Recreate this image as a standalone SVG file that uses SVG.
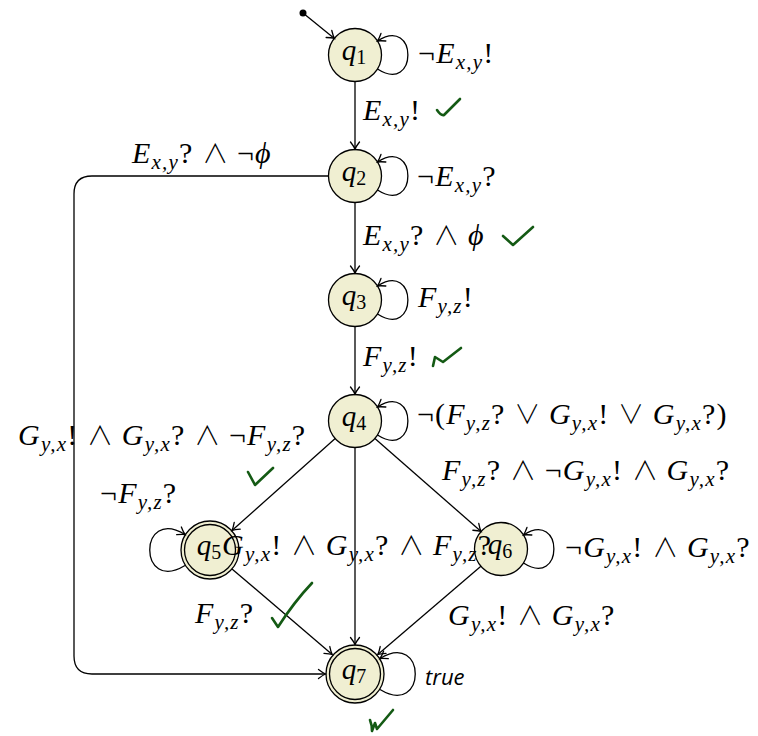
<svg xmlns="http://www.w3.org/2000/svg" width="758" height="736" viewBox="0 0 758 736">
<defs>
<style>
.node{fill:#F0EFD2;stroke:#000;stroke-width:1.3}
.ring{fill:none;stroke:#000;stroke-width:1.3}
.e{fill:none;stroke:#000;stroke-width:1.3;marker-end:url(#ah)}
.t{font-family:"Liberation Serif","DejaVu Serif",serif;font-size:30px;letter-spacing:1.2px;fill:#000}
.i{font-style:italic}
.s{font-size:21px;font-style:italic}
.o{font-family:"Noto Sans CJK JP","Noto Sans CJK SC",sans-serif;font-weight:300;font-size:26px;letter-spacing:0}
.q{font-family:"Liberation Serif","DejaVu Serif",serif;font-size:29px;font-style:italic;fill:#000;text-anchor:middle}
.qs{font-size:20px;font-style:normal}
.sans{font-family:"Open Sans","Noto Sans",sans-serif;font-style:italic;font-weight:500;font-size:22px;fill:#000}
.chk{fill:none;stroke:#145a14;stroke-width:2.6;stroke-linecap:round;stroke-linejoin:round}
</style>
<marker id="ah" markerWidth="12" markerHeight="12" viewBox="-10 -6 12 12" refX="0" refY="0" orient="auto" markerUnits="userSpaceOnUse">
<path d="M-7,-4.5 Q-2.5,-1 0,0 Q-2.5,1 -7,4.5" fill="none" stroke="#000" stroke-width="1.3" stroke-linecap="round"/>
</marker>
</defs>
<rect width="758" height="736" fill="#fff"/>

<g id="q1"><circle class="node" cx="355" cy="55" r="26.5"/><text class="q" x="354" y="60">q<tspan class="qs" dy="4">1</tspan></text></g>
<g id="q2"><circle class="node" cx="355" cy="176" r="26.5"/><text class="q" x="354" y="181">q<tspan class="qs" dy="4">2</tspan></text></g>
<g id="q3"><circle class="node" cx="355" cy="300" r="26.5"/><text class="q" x="354" y="305">q<tspan class="qs" dy="4">3</tspan></text></g>
<g id="q4"><circle class="node" cx="355" cy="421" r="26.5"/><text class="q" x="354" y="426">q<tspan class="qs" dy="4">4</tspan></text></g>
<g id="q5"><circle class="node" cx="210" cy="550" r="29"/><circle class="ring" cx="210" cy="550" r="25.5"/><text class="q" x="209" y="555">q<tspan class="qs" dy="4">5</tspan></text></g>
<g id="q6"><circle class="node" cx="501" cy="549" r="26.5"/><text class="q" x="500" y="554">q<tspan class="qs" dy="4">6</tspan></text></g>
<g id="q7"><circle class="node" cx="355" cy="674" r="29"/><circle class="ring" cx="355" cy="674" r="25.5"/><text class="q" x="354" y="679">q<tspan class="qs" dy="4">7</tspan></text></g>

<g id="connectors">
<circle cx="303" cy="13" r="3.5" fill="#000"/>
<path class="e" d="M303,13 L334.4,38.4"/>
<path class="e" d="M377.5,69 C418,95 418,15 377.5,41"/>
<path class="e" d="M355,81.5 L355,149"/>
<path class="e" d="M377.5,190 C418,216 418,136 377.5,162"/>
<path class="e" d="M328.5,176 H92 Q74,176 74,194 V656 Q74,674 92,674 H325.5"/>
<path class="e" d="M355,202.5 L355,273"/>
<path class="e" d="M377.5,314 C418,340 418,260 377.5,286"/>
<path class="e" d="M355,326.5 L355,394"/>
<path class="e" d="M377.5,435 C418,461 418,381 377.5,407"/>
<path class="e" d="M335.2,438.6 L232,530.5"/>
<path class="e" d="M374.9,438.5 L481.1,531.5"/>
<path class="e" d="M355,447.5 L355,644.5"/>
<path class="e" d="M185,565.5 C138,594 138,506 185,534.5"/>
<path class="e" d="M523.5,563 C564,589 564,509 523.5,535"/>
<path class="e" d="M232,568.9 L332.2,654.5"/>
<path class="e" d="M480.9,566.2 L377.8,654.5"/>
<path class="e" d="M380,689.5 C427,718 427,630 380,658.5"/>
</g>

<g id="labels">
<text class="t" x="418" y="63">¬<tspan class="i">E</tspan><tspan class="s" dy="6">x,y</tspan><tspan dy="-6">!</tspan></text>
<text class="t" x="363" y="120"><tspan class="i">E</tspan><tspan class="s" dy="6">x,y</tspan><tspan dy="-6">!</tspan></text>
<text class="t" x="132" y="163"><tspan class="i">E</tspan><tspan class="s" dy="6">x,y</tspan><tspan dy="-6">? </tspan><tspan class="o">∧</tspan> ¬<tspan class="i">ϕ</tspan></text>
<text class="t" x="417" y="186">¬<tspan class="i">E</tspan><tspan class="s" dy="6">x,y</tspan><tspan dy="-6">?</tspan></text>
<text class="t" x="363" y="245"><tspan class="i">E</tspan><tspan class="s" dy="6">x,y</tspan><tspan dy="-6">? </tspan><tspan class="o">∧</tspan> <tspan class="i">ϕ</tspan></text>
<text class="t" x="418" y="307"><tspan class="i">F</tspan><tspan class="s" dy="6">y,z</tspan><tspan dy="-6">!</tspan></text>
<text class="t" x="363" y="366"><tspan class="i">F</tspan><tspan class="s" dy="6">y,z</tspan><tspan dy="-6">!</tspan></text>
<text class="t" x="417" y="424">¬(<tspan class="i">F</tspan><tspan class="s" dy="6">y,z</tspan><tspan dy="-6">? </tspan><tspan class="o">∨</tspan> <tspan class="i">G</tspan><tspan class="s" dy="6">y,x</tspan><tspan dy="-6">! </tspan><tspan class="o">∨</tspan> <tspan class="i">G</tspan><tspan class="s" dy="6">y,x</tspan><tspan dy="-6">?)</tspan></text>
<text class="t" x="18" y="445"><tspan class="i">G</tspan><tspan class="s" dy="6">y,x</tspan><tspan dy="-6">! </tspan><tspan class="o">∧</tspan> <tspan class="i">G</tspan><tspan class="s" dy="6">y,x</tspan><tspan dy="-6">? </tspan><tspan class="o">∧</tspan> ¬<tspan class="i">F</tspan><tspan class="s" dy="6">y,z</tspan><tspan dy="-6">?</tspan></text>
<text class="t" x="442" y="480"><tspan class="i">F</tspan><tspan class="s" dy="6">y,z</tspan><tspan dy="-6">? </tspan><tspan class="o">∧</tspan> ¬<tspan class="i">G</tspan><tspan class="s" dy="6">y,x</tspan><tspan dy="-6">! </tspan><tspan class="o">∧</tspan> <tspan class="i">G</tspan><tspan class="s" dy="6">y,x</tspan><tspan dy="-6">?</tspan></text>
<text class="t" x="100" y="503">¬<tspan class="i">F</tspan><tspan class="s" dy="6">y,z</tspan><tspan dy="-6">?</tspan></text>
<text class="t" x="222" y="555"><tspan class="i">G</tspan><tspan class="s" dy="6">y,x</tspan><tspan dy="-6">! </tspan><tspan class="o">∧</tspan> <tspan class="i">G</tspan><tspan class="s" dy="6">y,x</tspan><tspan dy="-6">? </tspan><tspan class="o">∧</tspan> <tspan class="i">F</tspan><tspan class="s" dy="6">y,z</tspan><tspan dy="-6">?</tspan></text>
<text class="t" x="565" y="557">¬<tspan class="i">G</tspan><tspan class="s" dy="6">y,x</tspan><tspan dy="-6">! </tspan><tspan class="o">∧</tspan> <tspan class="i">G</tspan><tspan class="s" dy="6">y,x</tspan><tspan dy="-6">?</tspan></text>
<text class="t" x="195" y="623"><tspan class="i">F</tspan><tspan class="s" dy="6">y,z</tspan><tspan dy="-6">?</tspan></text>
<text class="t" x="448" y="625"><tspan class="i">G</tspan><tspan class="s" dy="6">y,x</tspan><tspan dy="-6">! </tspan><tspan class="o">∧</tspan> <tspan class="i">G</tspan><tspan class="s" dy="6">y,x</tspan><tspan dy="-6">?</tspan></text>
<text class="sans" x="425" y="685">true</text>
</g>

<g id="checks">
<path class="chk" d="M437,110 Q441,116 444,115 L460,99"/>
<path class="chk" d="M503,236 L513,245 L533,227"/>
<path class="chk" d="M433,366 L435,357 L443,362 L461,348"/>
<path class="chk" d="M248,472 L255,485 L273,468"/>
<path class="chk" d="M272,618 L278,627 Q294,602 312,583"/>
<path class="chk" d="M370,720 Q372,725 372,731 L375,723 L377,729 L393,710"/>
</g>
</svg>
